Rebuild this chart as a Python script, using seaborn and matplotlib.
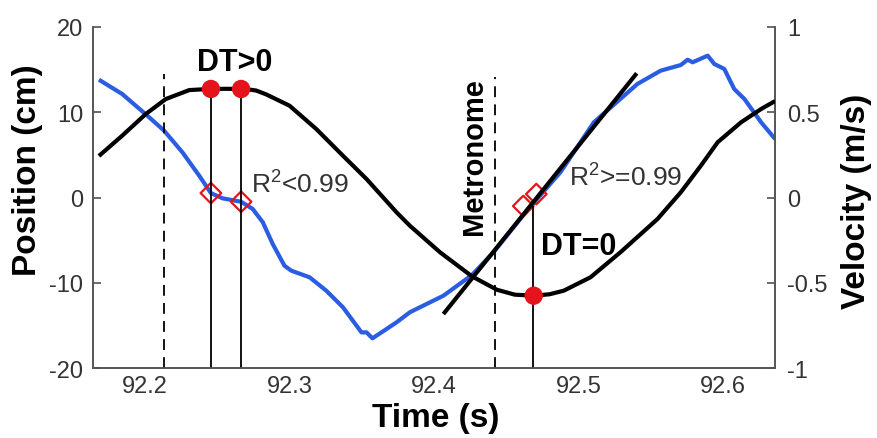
import matplotlib
matplotlib.use("Agg")
import matplotlib.pyplot as plt
import seaborn as sns
import numpy as np
import pandas as pd

# ---------------- data ----------------
pos_time = [92.1681, 92.1842, 92.2005, 92.2144, 92.2306, 92.2444, 92.2560, 92.2690,
            92.2769, 92.2838, 92.3000, 92.3185, 92.3370, 92.3533, 92.3741, 92.3833,
            92.4042, 92.4262, 92.4435, 92.4560, 92.4690, 92.4800, 92.4898, 92.5083,
            92.5292, 92.5547, 92.5708, 92.5847, 92.5963, 92.6125, 92.6264, 92.6361]
pos_cm = [4.87, 7.25, 9.79, 11.55, 12.60, 12.73, 12.75, 12.73,
          12.55, 12.10, 10.77, 8.04, 4.90, 2.17, -1.74, -3.31,
          -6.43, -9.24, -10.82, -11.40, -11.52, -11.35, -10.93, -9.36,
          -6.40, -2.52, 0.61, 3.73, 6.48, 8.82, 10.38, 11.32]

vel_time = [92.1681, 92.1842, 92.2016, 92.2132, 92.2259, 92.2375, 92.2456, 92.2537,
            92.2665, 92.2745, 92.2815, 92.2884, 92.2965, 92.3012, 92.3139, 92.3255,
            92.3370, 92.3498, 92.3533, 92.3574, 92.3672, 92.3741, 92.3833, 92.4065,
            92.4262, 92.4412, 92.4597, 92.4713, 92.4875, 92.5106, 92.5408, 92.5569,
            92.5708, 92.5755, 92.5790, 92.5894, 92.5940, 92.6009, 92.6078, 92.6148,
            92.6264, 92.6361]
vel_ms = [0.691, 0.607, 0.480, 0.392, 0.265, 0.128, 0.026, -0.005,
          -0.025, -0.067, -0.145, -0.273, -0.400, -0.429, -0.468, -0.547,
          -0.644, -0.791, -0.791, -0.826, -0.771, -0.732, -0.673, -0.576,
          -0.455, -0.321, -0.126, -0.009, 0.148, 0.441, 0.666, 0.744,
          0.777, 0.808, 0.793, 0.832, 0.783, 0.754, 0.636, 0.578,
          0.441, 0.343]

fit_time = [92.4065, 92.5403]
fit_pos = [-13.67, 14.57]

dot_time = [92.2456, 92.2665, 92.4690]
dot_pos = [12.73, 12.73, -11.52]

diamond_time = [92.2456, 92.2665, 92.4618, 92.4708]
diamond_vel = [0.026, -0.025, -0.050, 0.020]

solid_time = [92.2456, 92.2665, 92.4685]
solid_top = [12.73, 12.73, -1.0]

dashed_time = [92.2132, 92.4424]
dashed_top = [14.5, 14.1]

x_ticks = [92.2, 92.25, 92.3, 92.35, 92.4, 92.45, 92.5, 92.55, 92.6]
x_labels = ["92.2", "", "92.3", "", "92.4", "", "92.5", "", "92.6"]
y_ticks = [-20, -10, 0, 10, 20]
v_ticks = [-1, -0.5, 0, 0.5, 1]
v_labels = ["-1", "-0.5", "0", "0.5", "1"]

# ---------------- style ----------------
sns.set_theme(style="white")
plt.rcParams["font.family"] = ["Liberation Sans", "DejaVu Sans"]
plt.rcParams["mathtext.fontset"] = "custom"
plt.rcParams["mathtext.rm"] = "Liberation Sans"
plt.rcParams["mathtext.default"] = "regular"
plt.rcParams["lines.solid_joinstyle"] = "round"
plt.rcParams["lines.solid_capstyle"] = "butt"

BLUE = "#2b5de2"
RED = "#e5141c"
TXT = "#333333"

fig = plt.figure(figsize=(8.78, 4.39), dpi=100)
ax = fig.add_axes([93 / 878, 1 - 369 / 439, (775 - 93) / 878, (369 - 28) / 439])
ax2 = ax.twinx()
ax.set_zorder(ax2.get_zorder() + 1)
ax.patch.set_visible(False)

df_pos = pd.DataFrame({"t": pos_time, "p": pos_cm})
df_vel = pd.DataFrame({"t": vel_time, "v": vel_ms})
df_fit = pd.DataFrame({"t": fit_time, "p": fit_pos})

sns.lineplot(data=df_vel, x="t", y="v", ax=ax2, color=BLUE, lw=3.0, sort=False, zorder=2)
sns.scatterplot(x=diamond_time, y=diamond_vel, ax=ax2, marker="D", s=110,
                facecolor="none", edgecolor=RED, linewidth=1.6, zorder=5)

sns.lineplot(data=df_pos, x="t", y="p", ax=ax, color="black", lw=3.0, sort=False, zorder=3)
sns.lineplot(data=df_fit, x="t", y="p", ax=ax, color="black", lw=3.0, sort=False, zorder=3)
ax.vlines(solid_time, -20, solid_top, colors="black", lw=1.3, zorder=2)
ax.vlines(dashed_time, -20, dashed_top, colors="black", lw=1.3,
          linestyles=(0, (6, 4)), zorder=2)
sns.scatterplot(x=dot_time, y=dot_pos, ax=ax, color=RED, s=175, edgecolor="none",
                zorder=4)

# text annotations
ax.text(92.2618, 15.95, "DT>0", ha="center", va="center", fontsize=22,
        fontweight="bold", color="black")
ax.text(92.2734, 0.6, r"R$^2$<0.99", ha="left", va="baseline", fontsize=19, color=TXT)
ax.text(92.4280, 4.9, "Metronome", ha="center", va="center", rotation=90,
        fontsize=21, fontweight="bold", color="black")
ax.text(92.4933, 1.45, r"R$^2$>=0.99", ha="left", va="baseline", fontsize=19, color=TXT)
ax.text(92.5003, -5.65, "DT=0", ha="center", va="center", fontsize=22,
        fontweight="bold", color="black")

# axes
ax.set_xlim(92.164, 92.636)
ax.set_ylim(-20, 20)
ax2.set_ylim(-1, 1)
ax.set_xticks(x_ticks)
ax.set_xticklabels(x_labels)
ax.set_yticks(y_ticks)
ax.set_yticklabels([str(v) for v in y_ticks])
ax2.set_yticks(v_ticks)
ax2.set_yticklabels(v_labels)

for a in (ax, ax2):
    a.spines["top"].set_visible(False)
    for s in ("left", "right", "bottom"):
        a.spines[s].set_color("#555555")
        a.spines[s].set_linewidth(1.2)
    a.grid(False)

ax.tick_params(axis="x", direction="in", length=6, width=1.1, color="#444444",
               labelsize=17, labelcolor=TXT, pad=5)
ax.tick_params(axis="y", direction="in", length=6, width=1.1, color="#444444",
               labelsize=17, labelcolor=TXT, pad=7)
ax2.tick_params(axis="y", direction="in", length=6, width=1.1, color="#444444",
                labelsize=17, labelcolor=TXT, pad=9)

ax.set_xlabel("Time (s)", fontsize=24, fontweight="bold", color="black", va="center")
ax.xaxis.set_label_coords(0.503, -0.144)
ax.set_ylabel("Position (cm)", fontsize=24, fontweight="bold", color="black", va="center")
ax.yaxis.set_label_coords(-0.096, 0.584)
ax2.set_ylabel("Velocity (m/s)", fontsize=24, fontweight="bold", color="black",
               va="center", rotation=90)
ax2.yaxis.set_label_coords(1.120, 0.493)

fig.savefig("out.png", dpi=100)
